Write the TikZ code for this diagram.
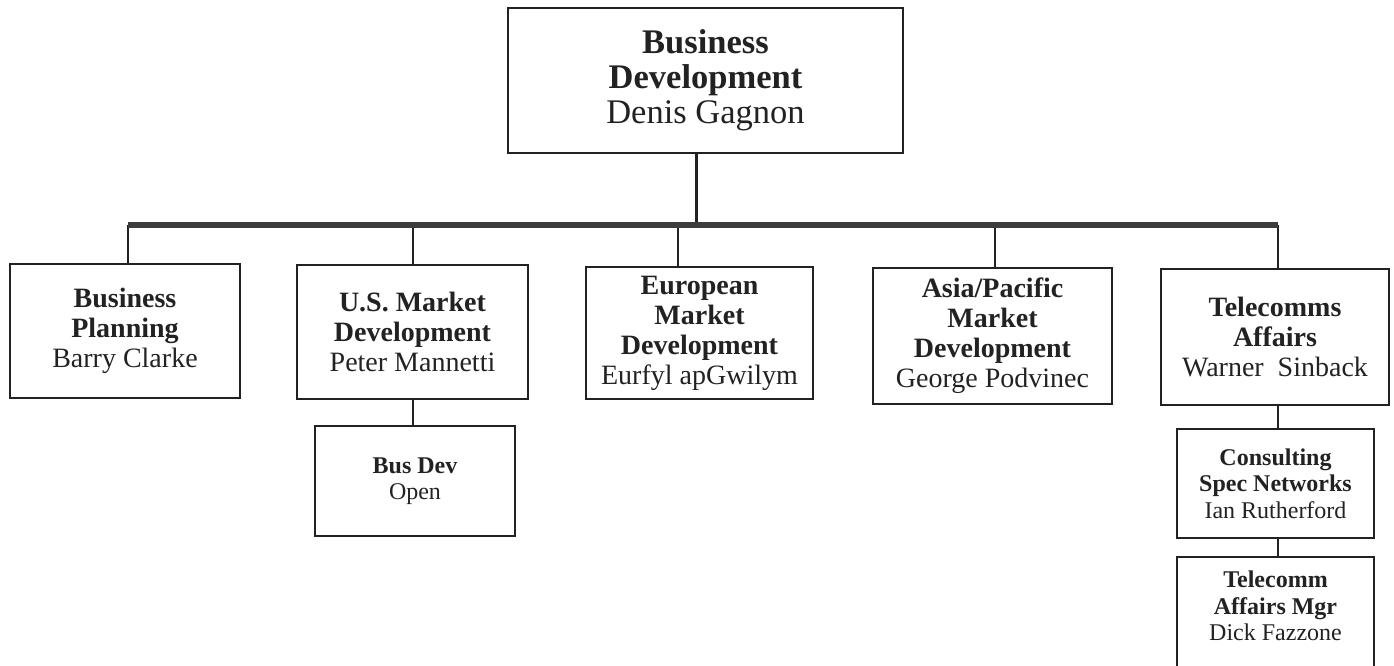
\documentclass[tikz,border=0pt]{standalone}
\usepackage{fontspec}
\setmainfont{Liberation Serif}
\definecolor{ink}{RGB}{34,34,34}
\definecolor{busgray}{RGB}{60,60,60}
\tikzset{
  x=1pt, y=-1pt,
  mainbox/.style={draw=ink, line width=2.6pt, rectangle, inner sep=0pt, align=center, text=ink,
    font=\fontsize{28}{30}\selectfont},
  topbox/.style={mainbox, font=\fontsize{34.5}{35}\selectfont},
  subbox/.style={draw=ink, line width=1.7pt, rectangle, inner sep=0pt, align=center, text=ink,
    font=\fontsize{24}{26.5}\selectfont},
  link/.style={draw=ink, line width=2pt},
  stem/.style={draw=ink, line width=3pt},
  bus/.style={draw=busgray, line width=6pt},
}
\begin{document}
\begin{tikzpicture}
\useasboundingbox (0,0) rectangle (1394,665);
\clip (0,0) rectangle (1394,665);

% head of the department
\node[topbox, minimum width=395pt, minimum height=145pt] (top) at (705.5,80.5)
  {\textbf{Business}\\\textbf{Development}\\Denis Gagnon};

% first level
\node[mainbox, minimum width=230pt, minimum height=134pt] (bp) at (125,331)
  {\textbf{Business}\\\textbf{Planning}\\Barry Clarke};
\node[mainbox, minimum width=231pt, minimum height=134pt] (us) at (412.5,332)
  {\textbf{U.S. Market}\\\textbf{Development}\\Peter Mannetti};
\node[mainbox, minimum width=227pt, minimum height=132pt] (eu) at (699.5,333)
  {\textbf{European}\\\textbf{Market}\\\textbf{Development}\\Eurfyl apGwilym};
\node[mainbox, minimum width=239pt, minimum height=136pt] (ap) at (992.5,336)
  {\textbf{Asia/Pacific}\\\textbf{Market}\\\textbf{Development}\\George Podvinec};
\node[mainbox, minimum width=228pt, minimum height=136pt] (tc) at (1275,337)
  {\textbf{Telecomms}\\\textbf{Affairs}\\Warner\ \ Sinback};

% second and third level
\node[subbox, minimum width=200pt, minimum height=110pt] (bd) at (415,481)
  {\textbf{Bus Dev}\\Open};
\node[subbox, minimum width=197pt, minimum height=109pt] (cs) at (1275.5,483.5)
  {\textbf{Consulting}\\\textbf{Spec Networks}\\Ian Rutherford};
\node[subbox, minimum width=197pt, minimum height=120pt] (tm) at (1275.5,617) {};
\node[subbox, draw=none, anchor=north] (tmtext) at ([yshift=-14pt]tm.north)
  {\textbf{Telecomm}\\\textbf{Affairs Mgr}\\Dick Fazzone};

% horizontal bus and its drops
\coordinate (bL) at (128,225);
\coordinate (bR) at (1278,225);
\coordinate (j0) at (696,225);
\coordinate (j1) at (128,225);
\coordinate (j2) at (413,225);
\coordinate (j3) at (678,225);
\coordinate (j4) at (995,225);
\coordinate (j5) at (1278,225);

\draw[stem] (top.south -| j0) -- (j0);
\draw[link] (j1) -- (j1 |- bp.north);
\draw[link] (j2) -- (j2 |- us.north);
\draw[link] (j3) -- (j3 |- eu.north);
\draw[link] (j4) -- (j4 |- ap.north);
\draw[link] (j5) -- (j5 |- tc.north);
\draw[bus] (bL) -- (bR);

\draw[link] (us.south -| j2) -- (bd.north -| j2);
\draw[link] (tc.south -| j5) -- (cs.north -| j5);
\draw[link] (cs.south -| j5) -- (tm.north -| j5);
\end{tikzpicture}
\end{document}
